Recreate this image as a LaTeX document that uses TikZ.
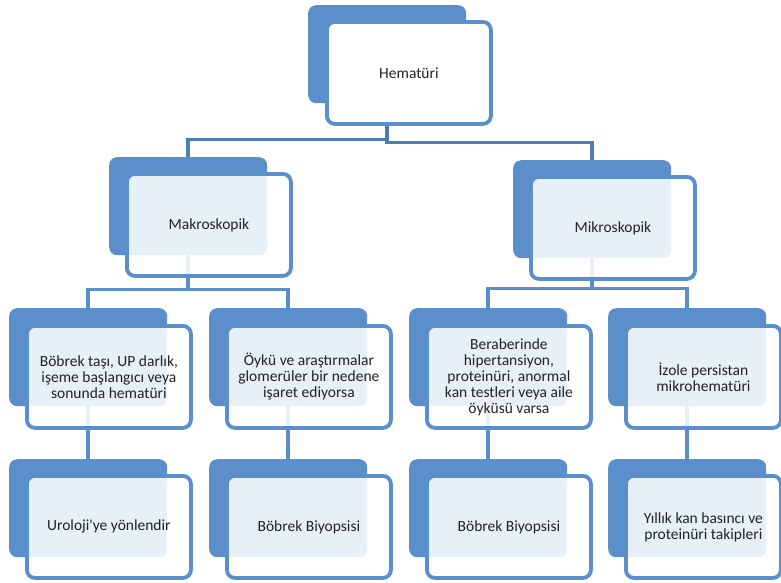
\documentclass[tikz,border=0pt]{standalone}
\usepackage{fontspec}
\setmainfont{Carlito}[Ligatures=TeXOff]
\definecolor{boxblue}{HTML}{5A8FCB}
\definecolor{connblue}{HTML}{4D7DB2}
\definecolor{txt}{HTML}{222222}
\begin{document}
\begin{tikzpicture}[x=1pt,y=-1pt,
  darkbox/.style={fill=boxblue, draw=none, rounded corners=8pt, minimum width=158pt, minimum height=98pt, inner sep=0pt, anchor=north west},
  outbox/.style={draw=boxblue, line width=3.8pt, fill=white, fill opacity=0.86, text opacity=1, rounded corners=8pt, minimum width=164pt, minimum height=102pt, inner sep=0pt, anchor=north west, align=center, text=txt, font=\fontsize{15.5}{16}\selectfont},
  topbox/.style={outbox, fill opacity=1},
  conn/.style={draw=boxblue, line width=3.5pt},
  conntop/.style={draw=connblue, line width=3.5pt}]
\useasboundingbox (0,0) rectangle (781,582);
% dark back boxes
\node[darkbox] (d1) at (308,5) {};
\node[darkbox] (d2) at (109,157) {};
\node[darkbox] (d3) at (513,160) {};
\node[darkbox] (d4) at (9,308) {};
\node[darkbox] (d5) at (209,308) {};
\node[darkbox] (d6) at (409,308) {};
\node[darkbox] (d7) at (608,308) {};
\node[darkbox] (d8) at (9,459) {};
\node[darkbox] (d9) at (209,459) {};
\node[darkbox] (d10) at (409,459) {};
\node[darkbox] (d11) at (608,459) {};
% connectors
\draw[conntop] (d1.south) -- ++(0,36) -| (d2.north);
\draw[conntop] (d1.south) -- ++(0,39) -| (d3.north);
\draw[conn] (d2.south) -- ++(0,34) -| (d4.north);
\draw[conn] (d2.south) -- ++(0,34) -| (d5.north);
\draw[conn] (d3.south) -- ++(0,30) -| (d6.north);
\draw[conn] (d3.south) -- ++(0,30) -| (d7.north);
\draw[conn] (d4.south) -- (d8.north);
\draw[conn] (d5.south) -- (d9.north);
\draw[conn] (d6.south) -- (d10.north);
\draw[conn] (d7.south) -- (d11.north);
% front boxes
\node[topbox] (n1) at (325,20) {Hematüri};
\node[outbox] (n2) at (125,172) {Makroskopik};
\node[outbox] (n3) at (529,175) {Mikroskopik};
\node[outbox] (n4) at (25,324) {Böbrek taşı, UP darlık,\\işeme başlangıcı veya\\sonunda hematüri};
\node[outbox] (n5) at (225,324) {Öykü ve araştırmalar\\glomerüler bir nedene\\işaret ediyorsa};
\node[outbox] (n6) at (425,324) {Beraberinde\\hipertansiyon,\\proteinüri, anormal\\kan testleri veya aile\\öyküsü varsa};
\node[outbox, minimum width=155pt] (n7) at (624,324) {İzole persistan\\mikrohematüri};
\node[outbox] (n8) at (25,474) {Uroloji'ye yönlendir};
\node[outbox] (n9) at (225,474) {Böbrek Biyopsisi};
\node[outbox] (n10) at (425,474) {Böbrek Biyopsisi};
\node[outbox, minimum width=155pt] (n11) at (624,474) {Yıllık kan basıncı ve\\proteinüri takipleri};
\end{tikzpicture}
\end{document}
